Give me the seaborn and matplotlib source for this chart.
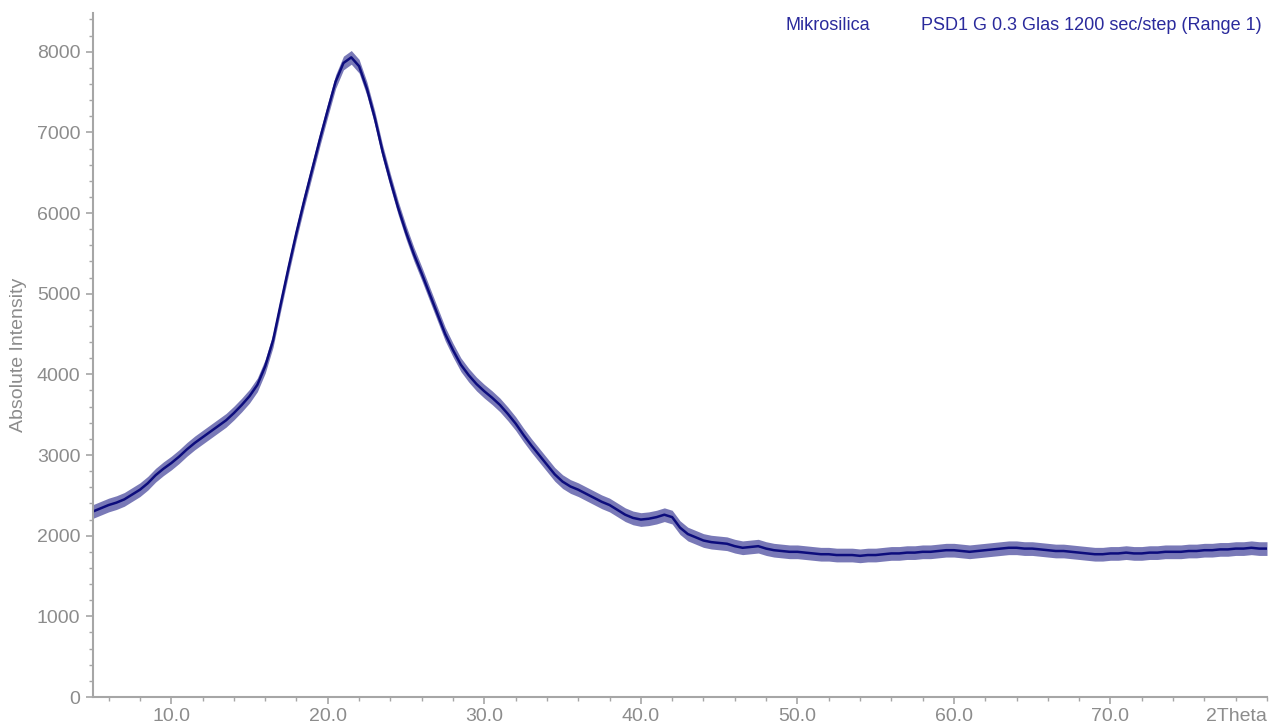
import numpy as np
import pandas as pd
import matplotlib
matplotlib.use("Agg")
import matplotlib.pyplot as plt
import seaborn as sns
from matplotlib.ticker import MultipleLocator, FixedLocator, FixedFormatter

# ---- data ----
two_theta_start = 5.0
two_theta_step = 0.5
intensity = [
    2300, 2340, 2380, 2410, 2450, 2510, 2570, 2650, 2750, 2830,   # 5.0 - 9.5
    2900, 2980, 3070, 3150, 3220, 3290, 3360, 3430, 3520, 3620,   # 10.0 - 14.5
    3730, 3870, 4100, 4420, 4880, 5330, 5760, 6160, 6540, 6920,   # 15.0 - 19.5
    7280, 7630, 7860, 7930, 7820, 7540, 7180, 6760, 6400, 6060,   # 20.0 - 24.5
    5760, 5490, 5250, 5000, 4750, 4500, 4300, 4120, 3990, 3880,   # 25.0 - 29.5
    3790, 3710, 3620, 3510, 3390, 3250, 3120, 3000, 2880, 2760,   # 30.0 - 34.5
    2670, 2610, 2570, 2520, 2470, 2420, 2380, 2320, 2260, 2220,   # 35.0 - 39.5
    2200, 2210, 2230, 2260, 2230, 2100, 2020, 1980, 1940, 1920,   # 40.0 - 44.5
    1910, 1900, 1870, 1850, 1860, 1870, 1840, 1820, 1810, 1800,   # 45.0 - 49.5
    1800, 1790, 1780, 1770, 1770, 1760, 1760, 1760, 1750, 1760,   # 50.0 - 54.5
    1760, 1770, 1780, 1780, 1790, 1790, 1800, 1800, 1810, 1820,   # 55.0 - 59.5
    1820, 1810, 1800, 1810, 1820, 1830, 1840, 1850, 1850, 1840,   # 60.0 - 64.5
    1840, 1830, 1820, 1810, 1810, 1800, 1790, 1780, 1770, 1770,   # 65.0 - 69.5
    1780, 1780, 1790, 1780, 1780, 1790, 1790, 1800, 1800, 1800,   # 70.0 - 74.5
    1810, 1810, 1820, 1820, 1830, 1830, 1840, 1840, 1850, 1840,   # 75.0 - 79.5
    1840,                                                         # 80.0
]
noise_halfwidth = 85  # visible scatter of the measured counts

x_tick_values = [10, 20, 30, 40, 50, 60, 70]
x_tick_labels = ["10.0", "20.0", "30.0", "40.0", "50.0", "60.0", "70.0"]
y_tick_values = [0, 1000, 2000, 3000, 4000, 5000, 6000, 7000, 8000]
x_axis_label = "2Theta"
y_axis_label = "Absolute Intensity"
sample_name = "Mikrosilica"
scan_name = "PSD1 G 0.3 Glas 1200 sec/step (Range 1)"

two_theta = two_theta_start + two_theta_step * np.arange(len(intensity))
df = pd.DataFrame({"two_theta": two_theta, "intensity": intensity})

# ---- style ----
sns.set_style("white")
plt.rcParams["font.family"] = ["Liberation Sans", "DejaVu Sans"]

line_color = "#0c0c7c"
text_color = "#2a2a9c"
grey = "#8c8c8c"
spine_grey = "#a6a6a6"

fig = plt.figure(figsize=(12.8, 7.24), dpi=100)
ax = fig.add_axes([93 / 1280, 27 / 724, (1267 - 93) / 1280, (697 - 13) / 724])

ax.fill_between(df["two_theta"], df["intensity"] - noise_halfwidth,
                df["intensity"] + noise_halfwidth, color=line_color,
                alpha=0.55, linewidth=0)
sns.lineplot(data=df, x="two_theta", y="intensity", ax=ax,
             color=line_color, linewidth=1.8)

ax.set_xlim(5, 80)
ax.set_ylim(0, 8480)

for side in ["top", "right"]:
    ax.spines[side].set_visible(False)
for side in ["left", "bottom"]:
    ax.spines[side].set_color(spine_grey)
    ax.spines[side].set_linewidth(1.5)

ax.xaxis.set_major_locator(FixedLocator(x_tick_values))
ax.xaxis.set_major_formatter(FixedFormatter(x_tick_labels))
ax.xaxis.set_minor_locator(MultipleLocator(2))
ax.yaxis.set_major_locator(FixedLocator(y_tick_values))
ax.yaxis.set_minor_locator(MultipleLocator(200))

ax.tick_params(axis="both", which="major", direction="out", length=5,
               width=1.2, color=spine_grey, labelcolor=grey, labelsize=14)
ax.tick_params(axis="both", which="minor", direction="out", length=3,
               width=1.0, color=spine_grey)
ax.tick_params(axis="x", which="both", bottom=True, pad=3)
ax.tick_params(axis="y", which="both", left=True, pad=4)

ax.set_xlabel("")
ax.set_ylabel(y_axis_label, color=grey, fontsize=14)
ax.yaxis.set_label_coords(-0.056, 0.5)

ax.annotate(x_axis_label, xy=(80, 0), xycoords=("data", "axes fraction"),
            xytext=(0, -8), textcoords="offset points", ha="right", va="top",
            color=grey, fontsize=14, annotation_clip=False)

fig.text(870 / 1280, 1 - 25 / 724, sample_name, ha="right", va="center",
         color=text_color, fontsize=13)
fig.text(1262 / 1280, 1 - 25 / 724, scan_name, ha="right", va="center",
         color=text_color, fontsize=13)

fig.savefig("out.png", dpi=100, facecolor="white")
